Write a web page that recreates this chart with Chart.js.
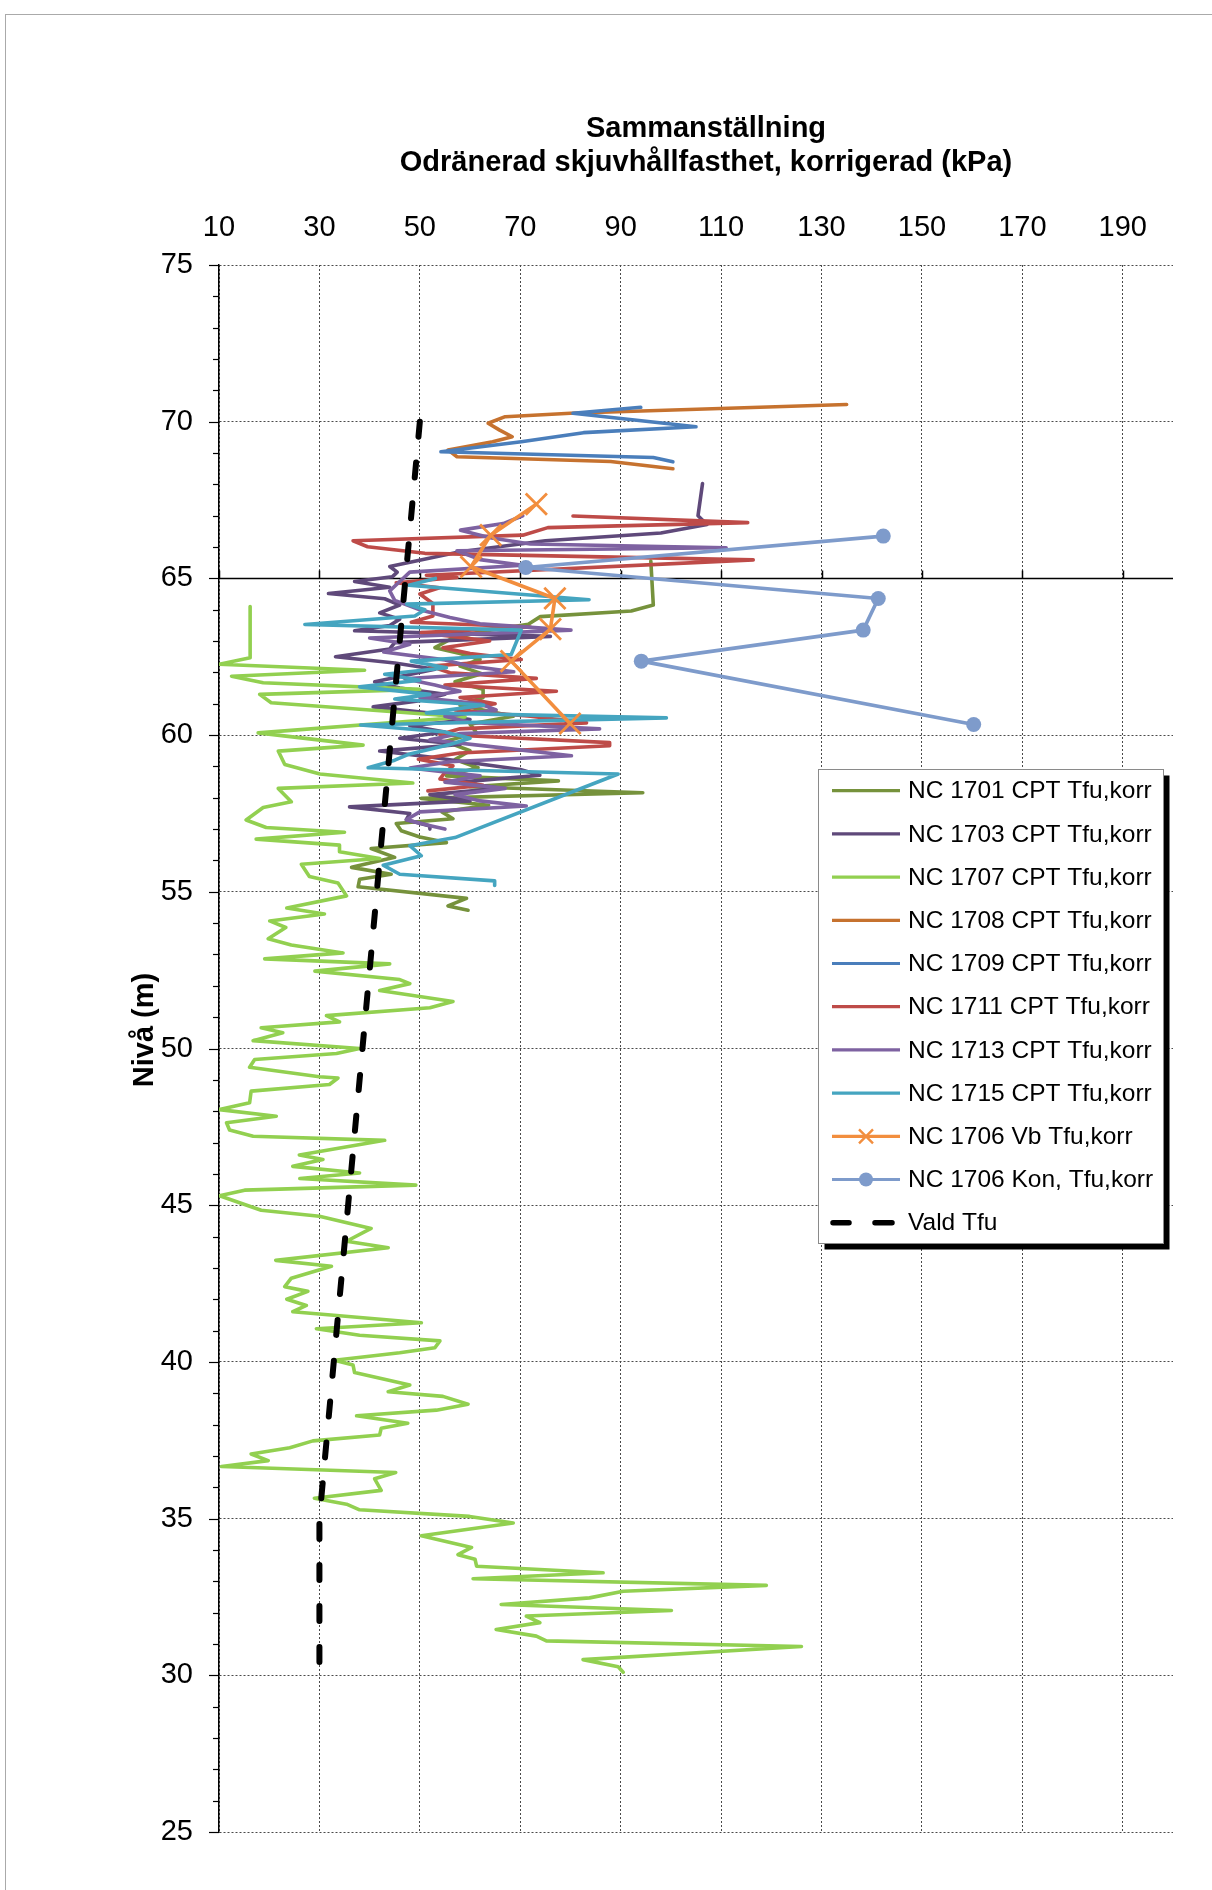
<!DOCTYPE html>
<html><head><meta charset="utf-8">
<script src="https://cdn.jsdelivr.net/npm/chart.js@4.4.0/dist/chart.umd.min.js"></script>
<style>
html,body{margin:0;padding:0;background:#fff;}
#wrap{position:relative;width:1212px;height:1890px;overflow:hidden;}
#frame{position:absolute;left:5px;top:14px;width:1220px;height:1900px;border-left:1px solid #aaa;border-top:1px solid #aaa;}
canvas{position:absolute;left:0;top:0;}
</style></head><body>
<div id="wrap"><div id="frame"></div><canvas id="c" width="1212" height="1890"></canvas></div>
<script>
const FONT = "'Liberation Sans', Arial, sans-serif";

// ---------- axis ticks ----------
const xTickValues = [10,30,50,70,90,110,130,150,170,190];
const yTickValues = [25,30,35,40,45,50,55,60,65,70,75];

// ---------- titles / labels ----------
const titleLines = ['Sammanställning','Odränerad skjuvhållfasthet, korrigerad (kPa)'];
const yTitle = 'Nivå (m)';
const seriesNames = ['NC 1701 CPT Tfu,korr','NC 1703 CPT Tfu,korr','NC 1707 CPT Tfu,korr','NC 1708 CPT Tfu,korr','NC 1709 CPT Tfu,korr','NC 1711 CPT Tfu,korr','NC 1713 CPT Tfu,korr','NC 1715 CPT Tfu,korr','NC 1706 Vb Tfu,korr','NC 1706 Kon, Tfu,korr','Vald Tfu'];

// ---------- data (Nivå m, Tfu kPa) ----------
const nc1701Niva = [65.55,64.15,63.96,63.78,63.54,63.3,63.05,62.79,62.6,62.41,62.2,61.96,61.7,61.46,61.2,60.95,60.6,60.35,60.07,59.8,59.5,59.22,58.96,58.7,58.54,58.35,58.16,57.98,57.76,57.55,57.33,57.18,56.95,56.75,56.57,56.38,56.1,55.78,55.56,55.4,55.16,54.79,54.55,54.41];
const nc1701Tfu  = [96,96.5,92.1,74,71.6,62,56,53,58,62,58,62.3,57,62.6,62.6,58,68.6,60,61.3,55,60,57,61.6,55.3,77.6,60,94.4,50.3,63.7,54.4,56.6,45.3,46.3,50,55.3,40.3,45,36.4,44.3,38,37.7,59.3,55.6,59.6];

const nc1703Niva = [68.03,67.0,66.72,66.45,66.2,65.85,65.38,65.2,65.05,64.9,64.72,64.52,64.35,64.15,63.9,63.7,63.5,63.33,63.15,62.95,62.75,62.5,62.3,62.1,61.9,61.7,61.5,61.3,61.1,60.9,60.7,60.5,60.3,60.1,59.9,59.7,59.49,59.3,59.1,58.9,58.72,58.5,58.3,58.1,57.9,57.71,57.5,57.3,57.1,57.0];
const nc1703Tfu  = [106.3,105.4,107.2,98,75,58,44,45.5,44.5,37,44,31.8,43,46,42,46,44,37,76,45,44,33.2,45,53,47,41,46,55,50,40.7,52,60,48,55,46,58,42,52,61,70,73.9,58,66,52,60,36,48,47.3,52,52];

const nc1707Niva = [64.1,62.47,62.26,62.07,61.88,61.67,61.46,61.3,61.03,60.58,60.07,59.68,59.49,59.06,58.76,58.47,58.3,57.87,57.69,57.29,57.05,56.9,56.68,56.49,56.28,56.06,55.88,55.49,55.28,54.87,54.48,54.29,54.07,53.86,53.5,53.3,53.05,52.86,52.7,52.47,52.2,52.07,51.85,51.5,51.3,51.05,50.85,50.66,50.5,50.25,50.0,49.84,49.65,49.4,49.1,49.06,48.85,48.64,48.27,48.05,47.84,47.63,47.4,47.2,47.07,46.6,46.46,46.24,46.03,45.85,45.64,45.48,45.3,44.84,44.65,44.26,43.85,43.64,43.24,43.05,42.67,42.4,42.25,42.0,41.8,41.6,41.25,41.06,40.85,40.67,40.45,40.29,40.05,39.9,39.66,39.26,39.05,38.9,38.65,38.46,38.28,38.04,37.88,37.67,37.48,37.26,37.06,36.85,36.66,36.47,36.27,35.9,35.65,35.46,35.28,35.07,34.86,34.45,34.08,33.85,33.7,33.48,33.27,33.08,32.87,32.68,32.47,32.26,32.07,31.89,31.68,31.46,31.25,31.1,30.92,30.5,30.27,30.1];
const nc1707Tfu  = [16.2,16.2,10,39,12.5,18.8,50,18.1,20.4,59,17.8,38.7,21.8,23.1,30.1,48.6,21.8,24.4,18.8,15.4,19.4,35,17.4,34,34,42,26.4,28,33.7,35.4,23.5,31,20.1,23.3,19.8,24.4,34.7,19.1,44,29.1,46,48,42,56.6,52,31.4,34,18.4,22.7,16.8,38,33.4,17.1,16.1,30,33.7,32,16.4,16.1,10.1,21.4,11.5,12.1,16.8,43,26,30.7,24.7,38,26.1,49.2,15.1,10.1,18.4,30,40.3,35.4,43.7,21.3,32.4,24.4,23.1,27.7,23.5,27.4,24.7,50.3,29.4,38,54,53,46,33,36.7,37,48,43.7,54.6,59.6,53.3,37.4,47.6,42.3,42,28.7,24.1,16.4,19.8,10.5,45.2,41,42.3,29,35.4,38,59.9,68.6,50.3,60.3,57.6,61,61.3,86.5,60.6,119,90.5,83.8,66.2,100.1,71.2,73.9,65.2,73.2,75.2,126,82.5,89.5,90.5];

const nc1708Niva = [70.55,70.27,70.16,69.95,69.73,69.52,69.36,69.1,68.88,68.73,68.5];
const nc1708Tfu  = [135,80,67,63.6,65.9,68.4,64.5,55.6,57.4,88,100.4];

const nc1709Niva = [70.46,70.27,69.84,69.65,69.36,69.04,68.86,68.72];
const nc1709Tfu  = [94,80.5,105,82.6,70.2,54.2,96.5,100.4];

const nc1711Niva = [66.99,66.78,66.62,66.38,66.2,66.01,65.8,65.59,65.1,65.03,64.86,64.7,64.5,64.2,63.8,63.6,63.45,63.27,63.0,62.79,62.6,62.41,62.2,61.99,61.81,61.6,61.4,61.2,61.0,60.8,60.6,60.39,60.2,60.02,59.9,59.76,59.66,59.43,59.23,59.02,58.8,58.6,58.4,58.22];
const nc1711Tfu  = [80.5,115.3,75.5,70.5,36.7,39.6,51,116.4,51.3,57.4,45.3,53.9,50,52.6,52.6,48.3,72,50.3,63.9,54.6,60,70.2,52,56,73.2,55,77.2,58,65,57,72,83.2,58,54,70,87.8,87.8,58,49.7,56.6,55,54,62.6,51.6];

const nc1713Niva = [67.0,66.75,66.54,66.3,66.1,65.98,65.88,65.6,65.42,65.2,64.9,64.6,64.3,64.0,63.75,63.55,63.35,63.1,62.9,62.65,62.4,62.2,62.02,61.8,61.6,61.4,61.2,61.0,60.8,60.6,60.4,60.2,60.05,59.85,59.6,59.34,59.15,58.95,58.7,58.5,58.3,58.1,57.9,57.74,57.55,57.3,57.1,57.0];
const nc1713Tfu  = [70.5,66.6,58.1,64,72,111,57.4,62,70.5,48,46,44,45,50,56,62,80.1,40,48,42.8,55,60,68.7,47,53,58,50,62,65.2,55,60,85.8,58,52,66,80.2,56,48,62,55,67,57,62,71.2,50,47.3,52.3,55];

const nc1715Niva = [65.0,64.78,64.32,64.18,64.0,63.8,63.53,63.35,62.57,62.36,62.15,61.94,61.75,61.54,61.3,61.15,60.95,60.71,60.55,60.32,60.1,59.9,59.7,59.4,59.2,58.96,58.76,56.73,56.47,56.15,55.85,55.56,55.35,55.2];
const nc1715Tfu  = [53.1,47.8,83.7,47.4,51,49,27.1,70.2,68.2,48.3,55.3,43,50,38,52,45,62.7,51.3,99.1,38.2,55,60,56,48,45,39.7,89.5,57,48,50.3,42.7,46,64.9,64.9];

const vbNiva = [67.37,66.38,65.37,64.36,63.38,62.36,60.37];
const vbTfu  = [73.2,64.1,60.2,76.9,76,68.2,79.9];

const konNiva = [66.35,65.35,64.36,63.35,62.36,60.34];
const konTfu  = [142.3,71.1,141.3,138.3,94.1,160.3];

const valdNiva = [70,35,30];
const valdTfu  = [50,30,30];

// ---------- styles ----------
const colors = ['#76923C','#5F497A','#92D050','#C6722F','#4A7EBB','#BE4B48','#7E62A1','#45A5C0','#F28E3E','#7E9BCB','#000000'];

function pts(n,t){ return n.map((v,i)=>({x:t[i], y:v})); }
const seriesData = [
  pts(nc1701Niva,nc1701Tfu), pts(nc1703Niva,nc1703Tfu), pts(nc1707Niva,nc1707Tfu),
  pts(nc1708Niva,nc1708Tfu), pts(nc1709Niva,nc1709Tfu), pts(nc1711Niva,nc1711Tfu),
  pts(nc1713Niva,nc1713Tfu), pts(nc1715Niva,nc1715Tfu), pts(vbNiva,vbTfu),
  pts(konNiva,konTfu), pts(valdNiva,valdTfu)
];

const datasets = seriesData.map((d,i)=>{
  const ds = {label:seriesNames[i], data:d, showLine:true, borderColor:colors[i], backgroundColor:colors[i],
    borderWidth:3.6, pointRadius:0, tension:0, order:20-i, borderJoinStyle:'round', borderCapStyle:'round'};
  if(i===8){ ds.pointStyle='crossRot'; ds.pointRadius=15; ds.pointBorderWidth=2.8; ds.pointBorderColor=colors[i]; }
  if(i===9){ ds.pointStyle='circle'; ds.pointRadius=7.5; ds.pointBorderWidth=0; ds.pointBackgroundColor=colors[i]; ds.borderWidth=3.6; }
  if(i===10){ ds.borderDash=[15,26]; ds.borderWidth=6; ds.borderCapStyle='round'; }
  return ds;
});

const decor = {
  id:'decor',
  beforeDatasetsDraw(chart){
    const {ctx, scales:{x,y}, chartArea:a} = chart;
    ctx.save();
    ctx.strokeStyle='#000';
    ctx.lineWidth=1.2;
    for(let v=25; v<=75; v++){
      const py=Math.round(y.getPixelForValue(v))+0.5;
      const len = (v%5===0)?10:6;
      ctx.beginPath(); ctx.moveTo(a.left-len,py); ctx.lineTo(a.left,py); ctx.stroke();
    }
    const p65=Math.round(y.getPixelForValue(65))+0.5;
    ctx.lineWidth=1.5;
    ctx.beginPath(); ctx.moveTo(a.left,p65); ctx.lineTo(a.right,p65); ctx.stroke();
    xTickValues.forEach(v=>{
      const px=Math.round(x.getPixelForValue(v))+0.5;
      ctx.beginPath(); ctx.moveTo(px,p65); ctx.lineTo(px,p65-8); ctx.stroke();
    });
    ctx.restore();
  },
  afterDraw(chart){
    const ctx=chart.ctx;
    ctx.save();
    ctx.fillStyle='#000';
    ctx.font='bold 29px '+FONT;
    ctx.textAlign='center'; ctx.textBaseline='middle';
    ctx.fillText(titleLines[0],706,129);
    ctx.fillText(titleLines[1],706,163);
    ctx.save();
    ctx.translate(145,1030); ctx.rotate(-Math.PI/2);
    ctx.font='bold 29px '+FONT;
    ctx.fillText(yTitle,0,0);
    ctx.restore();
    // legend
    const bx=818.5, by=769.5, bw=345, bh=474;
    ctx.fillStyle='#000';
    ctx.fillRect(bx+6,by+6,bw,bh);
    ctx.fillStyle='#fff';
    ctx.fillRect(bx,by,bw,bh);
    ctx.strokeStyle='#8a8a8a'; ctx.lineWidth=1;
    ctx.strokeRect(bx,by,bw,bh);
    ctx.font='24.5px '+FONT;
    ctx.textAlign='left'; ctx.textBaseline='middle';
    seriesNames.forEach((name,i)=>{
      const cy=790.7+i*43.2;
      ctx.strokeStyle=colors[i];
      ctx.lineCap='butt';
      if(i===10){
        ctx.lineWidth=5.5; ctx.lineCap='round';
        ctx.beginPath(); ctx.moveTo(833,cy); ctx.lineTo(849,cy); ctx.moveTo(875,cy); ctx.lineTo(892,cy); ctx.stroke();
      } else {
        ctx.lineWidth=3.2;
        ctx.beginPath(); ctx.moveTo(832,cy); ctx.lineTo(900,cy); ctx.stroke();
      }
      if(i===8){
        ctx.lineWidth=2.4; const r=7;
        ctx.beginPath(); ctx.moveTo(866-r,cy-r); ctx.lineTo(866+r,cy+r); ctx.moveTo(866-r,cy+r); ctx.lineTo(866+r,cy-r); ctx.stroke();
      }
      if(i===9){
        ctx.fillStyle=colors[i]; ctx.beginPath(); ctx.arc(866,cy,7,0,Math.PI*2); ctx.fill();
      }
      ctx.fillStyle='#000';
      ctx.fillText(name,908,cy+1);
    });
    ctx.restore();
  }
};

new Chart(document.getElementById('c'),{
  type:'scatter',
  data:{datasets},
  options:{
    responsive:false, animation:false, devicePixelRatio:1,
    layout:{padding:{left:128,right:39,top:180,bottom:58}},
    plugins:{legend:{display:false}, title:{display:false}, tooltip:{enabled:false}},
    elements:{line:{tension:0}},
    scales:{
      x:{type:'linear', position:'top', min:10, max:200,
        afterBuildTicks:s=>{ s.ticks=xTickValues.map(v=>({value:v})); },
        afterFit:s=>{ s.height=85; },
        ticks:{font:{size:29,family:FONT}, color:'#000', padding:20, maxRotation:0, autoSkip:false},
        grid:{color:'#4a4a4a', lineWidth:1, drawTicks:false},
        border:{display:false, dash:[2,2]}
      },
      y:{type:'linear', position:'left', min:25, max:75,
        afterBuildTicks:s=>{ s.ticks=yTickValues.map(v=>({value:v})); },
        afterFit:s=>{ s.width=91; },
        ticks:{font:{size:29,family:FONT}, color:'#000', padding:26, autoSkip:false},
        grid:{color:'#4a4a4a', lineWidth:1, drawTicks:false},
        border:{display:true, color:'#000', width:1.5, dash:[2,2]}
      }
    }
  },
  plugins:[decor]
});
</script>
</body></html>
